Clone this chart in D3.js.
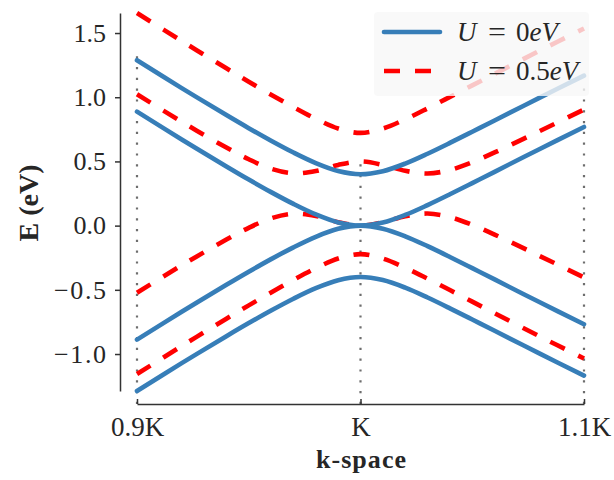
<!DOCTYPE html>
<html><head><meta charset="utf-8">
<script src="https://cdn.jsdelivr.net/npm/d3@7"></script>
<style>body{margin:0;background:#fff}svg{display:block}</style>
</head><body><svg id="c" width="614" height="480"></svg>
<script>
// k positions (fraction of K)
const kPoints = [0.90,0.92,0.94,0.95,0.96,0.97,0.98,0.99,1.00,1.01,1.02,1.03,1.04,1.05,1.06,1.08,1.10];
// U = 0 eV bands
const u0Band1 = [1.288,1.071,0.861,0.759,0.661,0.569,0.487,0.425,0.400,0.424,0.483,0.560,0.644,0.731,0.819,0.995,1.168];
const u0Band2 = [0.888,0.671,0.461,0.359,0.261,0.169,0.087,0.025,0.000,0.024,0.083,0.160,0.244,0.331,0.419,0.595,0.768];
const u0Band3 = [-0.888,-0.671,-0.461,-0.359,-0.261,-0.169,-0.087,-0.025,0.000,-0.024,-0.083,-0.160,-0.244,-0.331,-0.419,-0.595,-0.768];
const u0Band4 = [-1.288,-1.071,-0.861,-0.759,-0.661,-0.569,-0.487,-0.425,-0.400,-0.424,-0.483,-0.560,-0.644,-0.731,-0.819,-0.995,-1.168];
// U = 0.5 eV bands
const u5Band1 = [1.656,1.438,1.225,1.121,1.020,0.923,0.832,0.756,0.722,0.756,0.828,0.913,1.002,1.092,1.182,1.361,1.535];
const u5Band2 = [1.023,0.809,0.608,0.517,0.443,0.407,0.425,0.473,0.500,0.473,0.427,0.406,0.433,0.494,0.570,0.735,0.904];
const u5Band3 = [-0.523,-0.309,-0.108,-0.017,0.057,0.093,0.075,0.027,0.000,0.027,0.073,0.094,0.067,0.006,-0.070,-0.235,-0.404];
const u5Band4 = [-1.156,-0.938,-0.725,-0.621,-0.520,-0.423,-0.332,-0.256,-0.222,-0.256,-0.328,-0.413,-0.502,-0.592,-0.682,-0.861,-1.035];

const xTickValues = [0.9, 1.0, 1.1];
const xTickLabels = ["0.9K", "K", "1.1K"];
const yTickValues = [-1.0, -0.5, 0.0, 0.5, 1.0, 1.5];
const vlineTops = [1.362, 0.524, 1.11];
const legendValues = ["0", "0.5"];

const seriesU0 = [u0Band1, u0Band2, u0Band3, u0Band4];
const seriesU5 = [u5Band1, u5Band2, u5Band3, u5Band4];

const svg = d3.select("#c");
const FONT = "'Liberation Serif', 'DejaVu Serif', serif";
const TXT = "#262626";

const allVals = seriesU0.concat(seriesU5).flat();
const x = d3.scaleLinear().domain([0.9, 1.1]).range([137, 584]);
const y = d3.scaleLinear().domain(d3.extent(allVals)).range([391, 13]);

const line = d3.line().x((d, i) => x(kPoints[i])).y(d => y(d)).curve(d3.curveCatmullRom.alpha(0.5));

// dotted vertical guides
svg.append("g").selectAll("line").data(xTickValues).join("line")
  .attr("x1", d => x(d)).attr("x2", d => x(d))
  .attr("y1", 404).attr("y2", (d, i) => y(vlineTops[i]))
  .attr("stroke", "#6e6e6e").attr("stroke-width", 2.2)
  .attr("stroke-dasharray", "2.2 8.6");

// U = 0.5 eV (red dashed)
svg.append("g").selectAll("path").data(seriesU5).join("path")
  .attr("d", line).attr("fill", "none")
  .attr("stroke", "#ff0000").attr("stroke-width", 4.6)
  .attr("stroke-dasharray", "16 15");

// U = 0 eV (blue solid)
svg.append("g").selectAll("path").data(seriesU0).join("path")
  .attr("d", line).attr("fill", "none")
  .attr("stroke", "#377eb8").attr("stroke-width", 4.6)
  .attr("stroke-linecap", "round");

// y axis
const yAxis = svg.append("g").attr("transform", "translate(120,0)")
  .call(d3.axisLeft(y).tickValues(yTickValues).tickSize(5).tickSizeOuter(0).tickPadding(9).tickFormat(d3.format(".1f")));
yAxis.select(".domain").attr("stroke", "#333").attr("stroke-width", 1.5);
yAxis.selectAll(".tick line").attr("stroke", "#333").attr("stroke-width", 1.5);
yAxis.selectAll(".tick text").attr("font-family", FONT).attr("font-size", 26).attr("fill", TXT)
  .each(function(d) { if (d < 0) d3.select(this).attr("lengthAdjust", "spacing").attr("textLength", 52); });

// x axis
const xAxis = svg.append("g").attr("transform", "translate(0,404)")
  .call(d3.axisBottom(x).tickValues(xTickValues).tickSize(-5).tickSizeOuter(0).tickPadding(13)
    .tickFormat((d, i) => xTickLabels[i]));
xAxis.select(".domain").attr("stroke", "#333").attr("stroke-width", 1.5);
xAxis.selectAll(".tick line").attr("stroke", "#333").attr("stroke-width", 1.5);
xAxis.selectAll(".tick text").attr("font-family", FONT).attr("font-size", 27).attr("fill", TXT);

// axis labels
svg.append("text").attr("x", 361).attr("y", 468).attr("text-anchor", "middle")
  .attr("font-family", FONT).attr("font-weight", "bold").attr("font-size", 26).attr("fill", TXT)
  .attr("lengthAdjust", "spacing").attr("textLength", 90)
  .text("k-space");
svg.append("text").attr("transform", "translate(38,203) rotate(-90)").attr("text-anchor", "middle")
  .attr("font-family", FONT).attr("font-weight", "bold").attr("font-size", 28).attr("fill", TXT)
  .text("E (eV)");

// legend
const leg = svg.append("g");
leg.append("rect").attr("x", 374).attr("y", 12).attr("width", 215).attr("height", 84)
  .attr("rx", 4).attr("fill", "#f7f7f7").attr("fill-opacity", 0.8);
const legItems = [
  {color: "#377eb8", dash: null, yy: 32},
  {color: "#ff0000", dash: "16 15", yy: 71}
];
legItems.forEach((it, i) => {
  const l = leg.append("line").attr("x1", 384).attr("x2", 440).attr("y1", it.yy).attr("y2", it.yy)
    .attr("stroke", it.color).attr("stroke-width", 4.6);
  if (it.dash) l.attr("stroke-dasharray", it.dash); else l.attr("stroke-linecap", "round");
  const t = leg.append("text").attr("y", it.yy + 9)
    .attr("font-family", FONT).attr("font-size", 27).attr("fill", TXT);
  t.append("tspan").attr("x", 457).attr("font-style", "italic").text("U");
  t.append("tspan").attr("x", 488).attr("textLength", 18).attr("lengthAdjust", "spacingAndGlyphs").text("=");
  t.append("tspan").attr("x", 516).text(legendValues[i]);
  t.append("tspan").attr("font-style", "italic").text("eV");
});
</script>
</body></html>
